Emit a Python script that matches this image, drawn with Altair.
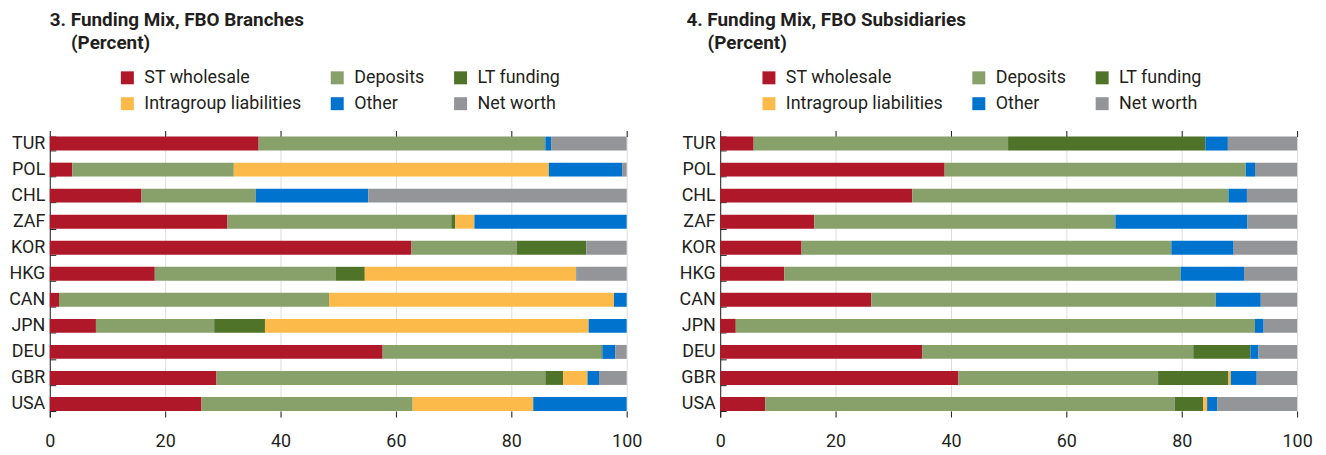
import altair as alt
import pandas as pd

countries = ["TUR", "POL", "CHL", "ZAF", "KOR", "HKG", "CAN", "JPN", "DEU", "GBR", "USA"]
series = ["ST wholesale", "Deposits", "LT funding", "Intragroup liabilities", "Other", "Net worth"]
colors = ["#AE1829", "#88A06A", "#4F7329", "#FBBA4A", "#0073CF", "#949599"]

# Panel 3: FBO Branches (percent)
br_st    = [36.2, 3.9, 15.9, 30.8, 62.7, 18.2, 1.6, 8.0, 57.7, 28.9, 26.3]
br_dep   = [49.7, 28.0, 19.8, 38.8, 18.2, 31.4, 46.8, 20.5, 37.9, 57.0, 36.6]
br_lt    = [0.0, 0.0, 0.0, 0.7, 12.1, 5.0, 0.0, 8.8, 0.2, 3.1, 0.0]
br_intra = [0.0, 54.6, 0.0, 3.3, 0.0, 36.7, 49.4, 56.1, 0.0, 4.2, 20.9]
br_other = [1.0, 12.7, 19.5, 26.4, 0.0, 0.1, 2.2, 6.6, 2.2, 2.0, 16.2]
br_nw    = [13.1, 0.8, 44.8, 0.0, 7.0, 8.6, 0.0, 0.0, 2.0, 4.8, 0.0]

# Panel 4: FBO Subsidiaries (percent)
su_st    = [5.8, 38.9, 33.3, 16.3, 14.1, 11.1, 26.2, 2.7, 35.0, 41.3, 7.8]
su_dep   = [44.1, 52.2, 54.8, 52.2, 64.1, 68.7, 59.7, 90.0, 47.0, 34.6, 71.0]
su_lt    = [34.2, 0.0, 0.0, 0.0, 0.0, 0.0, 0.0, 0.0, 9.9, 12.2, 4.9]
su_intra = [0.0, 0.0, 0.0, 0.0, 0.0, 0.0, 0.0, 0.0, 0.0, 0.4, 0.7]
su_other = [3.9, 1.6, 3.2, 22.9, 10.8, 11.0, 7.8, 1.5, 1.4, 4.5, 1.8]
su_nw    = [12.0, 7.3, 8.7, 8.6, 11.0, 9.2, 6.3, 5.8, 6.7, 7.0, 13.8]

x_ticks = [0, 20, 40, 60, 80, 100]

FONT = "Roboto"
TXT = "#231F20"
FS = 18
TFS = 19


def long_df(cols):
    rows = []
    for si, (name, vals) in enumerate(zip(series, cols)):
        for c, v in zip(countries, vals):
            rows.append({"country": c, "series": name, "order": si, "value": v})
    return pd.DataFrame(rows)


def panel(df, title, title_dx, legend_x):
    xscale = alt.Scale(domain=[0, 100], nice=False)
    color = alt.Color(
        "series:N",
        sort=series,
        scale=alt.Scale(domain=series, range=colors),
        legend=alt.Legend(
            title=None, orient="none", legendX=legend_x, legendY=-62,
            columns=3, direction="horizontal", symbolType="square",
            symbolSize=170, symbolStrokeWidth=0, labelFont=FONT,
            labelFontSize=FS, labelColor=TXT, labelOffset=8, labelLimit=0,
            rowPadding=8, columnPadding=27,
        ),
    )
    yaxis = alt.Axis(
        title=None, tickBand="extent", tickSize=alt.ExprRef(expr="-6"),
        labelPadding=11, labelFont=FONT, labelFontSize=FS, labelColor=TXT,
        domainColor=TXT, tickColor=TXT, domainWidth=1, tickWidth=1,
    )
    bars = alt.Chart(df).mark_bar().encode(
        y=alt.Y("country:N", sort=countries,
                scale=alt.Scale(paddingInner=0.465, paddingOuter=0.2325), axis=yaxis),
        x=alt.X("value:Q", stack="zero", scale=xscale,
                axis=alt.Axis(title=None, orient="bottom", values=x_ticks, domain=False,
                              tickSize=alt.ExprRef(expr="-6"), tickColor=TXT,
                              labelPadding=22, labelFont=FONT, labelFontSize=FS,
                              labelColor=TXT, labelFlush=False)),
        color=color,
        order=alt.Order("order:Q"),
    )
    top = alt.Chart(df).mark_rule(opacity=0).encode(
        x=alt.X("value:Q", scale=xscale,
                axis=alt.Axis(title=None, orient="top", values=x_ticks[1:], domain=False,
                              labels=False, tickSize=alt.ExprRef(expr="-6"),
                              tickColor=TXT)),
    )
    return alt.layer(bars, top).resolve_axis(x="independent").properties(
        width=580, height=288,
        title=alt.TitleParams(
            text=title, subtitle="\u200b\u2007\u2007(Percent)", anchor="start", frame="group",
            font=FONT, fontSize=TFS, fontWeight="bold", color=TXT,
            subtitleFont=FONT, subtitleFontSize=TFS, subtitleFontWeight="bold",
            subtitleColor=TXT, subtitlePadding=4, offset=16, dx=title_dx,
        ),
    )


left = panel(long_df([br_st, br_dep, br_lt, br_intra, br_other, br_nw]),
             "3. Funding Mix, FBO Branches", 0, 69)
right = panel(long_df([su_st, su_dep, su_lt, su_intra, su_other, su_nw]),
              "4. Funding Mix, FBO Subsidiaries", -34, 40)

chart = alt.hconcat(left, right, spacing=36).resolve_scale(color="independent").configure_view(
    stroke=None
).properties(padding={"left": 0, "top": 2, "right": 5, "bottom": 5})

chart.save("out.html", embed_options={"renderer": "svg", "actions": False})
